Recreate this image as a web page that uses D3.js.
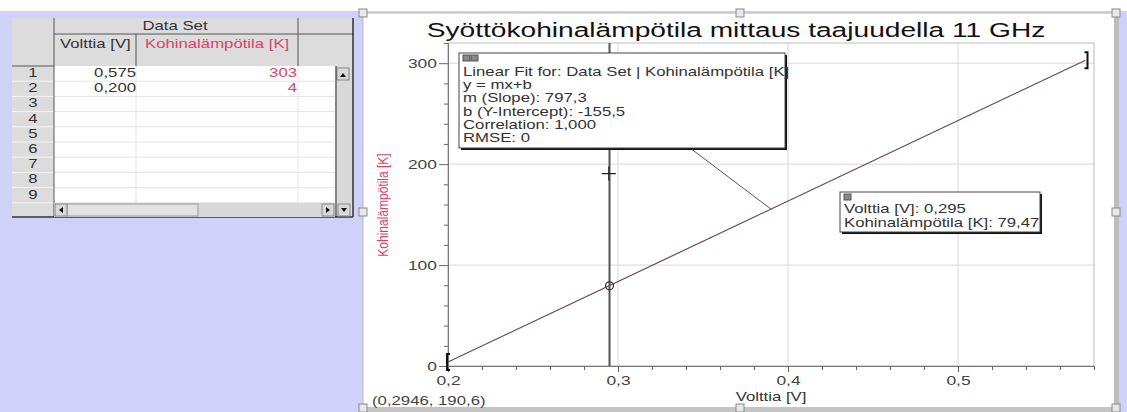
<!DOCTYPE html>
<html>
<head>
<meta charset="utf-8">
<script src="https://cdn.jsdelivr.net/npm/d3@7"></script>
<style>
  body { margin: 0; background: #fff; }
  svg { display: block; font-family: "Liberation Sans", Arial, sans-serif; }
</style>
</head>
<body>
<div id="chart"></div>
<script>
// --- données ---
const volts = [0.575, 0.200];
const temps = [303, 4];
const voltLabels = ["0,575", "0,200"];
const tempLabels = ["303", "4"];
const rowNumbers = [1, 2, 3, 4, 5, 6, 7, 8, 9];
const xTicks = [0.2, 0.3, 0.4, 0.5];
const yTicks = [0, 100, 200, 300];
const fitLines = [
  "Linear Fit for: Data Set | Kohinalämpötila [K]",
  "y = mx+b",
  "m (Slope): 797,3",
  "b (Y-Intercept): -155,5",
  "Correlation: 1,000",
  "RMSE: 0"
];
const slope = 797.3, intercept = -155.5;
const fitRange = [0.2, 0.575];
const examineX = 0.295, examineY = 79.47;
const cursorPt = [0.2946, 190.6];
const leaderX = 0.39;

const W = 1127, H = 412;
const SX = 1.34; // l'image d'origine est étirée horizontalement

const svg = d3.select("#chart").append("svg").attr("width", W).attr("height", H);

// texte étiré horizontalement autour de son point d'ancrage
function txt(parent, x, y, s, size, fill, anchor) {
  return parent.append("text")
    .attr("transform", `translate(${x},${y}) scale(${SX},1)`)
    .attr("text-anchor", anchor || "start")
    .attr("font-size", size).attr("fill", fill).text(s);
}

// fond lavande
svg.append("rect").attr("x", 0).attr("y", 11).attr("width", W).attr("height", H - 11).attr("fill", "#d0d0f8");

// ==========================
// TABLEAU
// ==========================
const tb = svg.append("g");
const tx0 = 12, ty0 = 18, tx1 = 353, ty1 = 217;
const rowTop = 66, rowH = 15.2;

tb.append("rect").attr("x", tx0).attr("y", ty0).attr("width", tx1 - tx0).attr("height", ty1 - ty0).attr("fill", "#dcdcdc");
tb.append("rect").attr("x", 54).attr("y", rowTop).attr("width", 335 - 54).attr("height", rowH * 9).attr("fill", "#fff");
rowNumbers.forEach((n, i) => {
  const y = rowTop + rowH * (i + 1);
  tb.append("line").attr("x1", 54).attr("x2", 335).attr("y1", y).attr("y2", y).attr("stroke", "#e4e4e4");
  tb.append("line").attr("x1", 12).attr("x2", 54).attr("y1", y).attr("y2", y).attr("stroke", "#f4f4f4");
  txt(tb, 33, rowTop + rowH * i + 11, n, 12.5, "#333", "middle");
});
[136, 298].forEach(x => tb.append("line").attr("x1", x).attr("x2", x).attr("y1", rowTop).attr("y2", rowTop + rowH * 9).attr("stroke", "#e4e4e4"));
tb.append("line").attr("x1", 54).attr("x2", 54).attr("y1", ty0).attr("y2", ty1).attr("stroke", "#555");
tb.append("line").attr("x1", 298).attr("x2", 298).attr("y1", ty0).attr("y2", 66).attr("stroke", "#555");
tb.append("line").attr("x1", 136).attr("x2", 136).attr("y1", 34).attr("y2", 66).attr("stroke", "#555");
tb.append("line").attr("x1", 54).attr("x2", 353).attr("y1", 34).attr("y2", 34).attr("stroke", "#555");
tb.append("line").attr("x1", 12).attr("x2", 54).attr("y1", 66).attr("y2", 66).attr("stroke", "#555");
tb.append("line").attr("x1", 353).attr("x2", 353).attr("y1", ty0).attr("y2", ty1).attr("stroke", "#333").attr("stroke-width", 1.5);
tb.append("line").attr("x1", tx0).attr("x2", tx1).attr("y1", ty1).attr("y2", ty1).attr("stroke", "#333").attr("stroke-width", 1.5);

txt(tb, 175, 30, "Data Set", 12.5, "#333", "middle");
txt(tb, 60, 48, "Volttia [V]", 12.5, "#333");
txt(tb, 145, 48, "Kohinalämpötila [K]", 12.5, "#e0406a");

volts.forEach((v, i) => {
  txt(tb, 136, rowTop + rowH * i + 11, voltLabels[i], 12.5, "#333", "end");
  txt(tb, 297, rowTop + rowH * i + 11, tempLabels[i], 12.5, "#e0406a", "end");
});

// barres de défilement
tb.append("rect").attr("x", 335).attr("y", 66).attr("width", 17).attr("height", 137).attr("fill", "#d8d8d8");
tb.append("rect").attr("x", 54).attr("y", 203).attr("width", 281).attr("height", 14).attr("fill", "#d8d8d8");
tb.append("rect").attr("x", 67).attr("y", 204).attr("width", 131).attr("height", 12).attr("fill", "#e2e2e2").attr("stroke", "#999");
function arrowBox(x, y, pts) {
  tb.append("rect").attr("x", x).attr("y", y).attr("width", 12).attr("height", 12).attr("fill", "#d8d8d8").attr("stroke", "#888");
  tb.append("path").attr("d", pts).attr("fill", "#111");
}
arrowBox(337, 68, "M340,77 L346,77 L343,73 Z");
arrowBox(55, 204, "M63,207 L63,213 L59,210 Z");
arrowBox(322, 204, "M326,207 L326,213 L330,210 Z");
arrowBox(338, 204, "M341,208 L347,208 L344,212 Z");
tb.append("line").attr("x1", 336).attr("x2", 336).attr("y1", 66).attr("y2", 217).attr("stroke", "#333");

// ==========================
// PANNEAU DU GRAPHIQUE
// ==========================
svg.append("rect").attr("x", 363).attr("y", 13).attr("width", 752).attr("height", 395).attr("fill", "#fff").attr("stroke", "#b8b8c8");
svg.append("rect").attr("x", 1114).attr("y", 13).attr("width", 5).attr("height", 399).attr("fill", "#bdbdbd");
svg.append("rect").attr("x", 363).attr("y", 407).attr("width", 756).attr("height", 5).attr("fill", "#c4c4c4");

const handles = [[363, 13], [740, 13], [1116, 13], [363, 212], [1116, 212], [363, 408], [740, 408], [1116, 408]];
svg.selectAll(".handle").data(handles).enter().append("rect")
  .attr("x", d => d[0] - 4).attr("y", d => d[1] - 4).attr("width", 8).attr("height", 8)
  .attr("fill", "#e8e8e8").attr("stroke", "#888");

txt(svg, 736, 37, "Syöttökohinalämpötila mittaus taajuudella 11 GHz", 21, "#111", "middle");

const x = d3.scaleLinear().domain([0.2, 0.58]).range([448, 1094]);
const y = d3.scaleLinear().domain([0, 320]).range([366, 43]);

const plot = svg.append("g");
plot.selectAll(".gx").data(xTicks).enter().append("line")
  .attr("x1", d => x(d)).attr("x2", d => x(d)).attr("y1", 43).attr("y2", 366).attr("stroke", "#d8d8d8");
plot.selectAll(".gy").data(yTicks).enter().append("line")
  .attr("x1", 448).attr("x2", 1094).attr("y1", d => y(d)).attr("y2", d => y(d)).attr("stroke", "#d8d8d8");
plot.append("rect").attr("x", 448).attr("y", 43).attr("width", 1094 - 448).attr("height", 366 - 43)
  .attr("fill", "none").attr("stroke", "#bbb");

// axes
const isMajorX = d => xTicks.some(t => Math.abs(t - d) < 1e-6);
const xAxis = d3.axisBottom(x).tickValues(d3.range(0.2, 0.5801, 0.02)).tickSize(4)
  .tickFormat(d => isMajorX(d) ? d3.format(".1f")(d).replace(".", ",") : "");
const gx = plot.append("g").attr("transform", "translate(0,366)").call(xAxis);
gx.selectAll(".tick line").attr("stroke", "#666").attr("y2", d => isMajorX(d) ? 6 : 4);
gx.select(".domain").attr("stroke", "#777");
gx.selectAll("text").attr("font-size", 13).attr("fill", "#444").attr("dy", "0.95em")
  .attr("transform", `scale(${SX},1)`).attr("font-family", "Liberation Sans, Arial");

const yAxis = d3.axisLeft(y).tickValues(d3.range(0, 321, 20)).tickSize(4)
  .tickFormat(d => yTicks.includes(d) ? d : "");
const gy = plot.append("g").attr("transform", "translate(448,0)").call(yAxis);
gy.selectAll(".tick line").attr("stroke", "#666").attr("x2", d => yTicks.includes(d) ? -9 : -4);
gy.select(".domain").attr("stroke", "#777");
gy.selectAll("text").attr("font-size", 13).attr("fill", "#444").attr("x", -11 / SX)
  .attr("transform", `scale(${SX},1)`).attr("font-family", "Liberation Sans, Arial");

// libellés des axes
svg.append("text").attr("transform", "translate(388,205) rotate(-90) scale(1,1.25)").attr("text-anchor", "middle")
  .attr("font-size", 12).attr("fill", "#e0406a").text("Kohinalämpötila [K]");
txt(svg, 771, 401, "Volttia [V]", 12.5, "#333", "middle");
txt(svg, 372, 405, "(" + String(cursorPt[0]).replace(".", ",") + ", " + String(cursorPt[1]).replace(".", ",") + ")", 12.5, "#444");

// ligne d'examen
plot.append("line").attr("x1", x(examineX)).attr("x2", x(examineX)).attr("y1", 43).attr("y2", 366)
  .attr("stroke", "#555").attr("stroke-width", 2);

// ligne d'ajustement
const fitData = fitRange.map(v => [v, slope * v + intercept]);
plot.append("path").datum(fitData)
  .attr("d", d3.line().x(d => x(d[0])).y(d => y(d[1])))
  .attr("stroke", "#6a4a52").attr("stroke-width", 1.2).attr("fill", "none");

// crochets de la région
function bracket(px, py, dir) {
  plot.append("path")
    .attr("d", `M${px + 3 * dir},${py - 8} L${px},${py - 8} L${px},${py + 8} L${px + 3 * dir},${py + 8}`)
    .attr("stroke", "#111").attr("stroke-width", 2).attr("fill", "none");
}
bracket(x(fitRange[0]) - 1, y(fitData[0][1]), 1);
bracket(x(fitRange[1]) + 2, y(fitData[1][1]), -1);

// point examiné
plot.append("circle").attr("cx", x(examineX)).attr("cy", y(examineY)).attr("r", 4)
  .attr("fill", "none").attr("stroke", "#333").attr("stroke-width", 1.2);
// curseur
const cx = x(cursorPt[0]), cy = y(cursorPt[1]);
plot.append("path").attr("d", `M${cx - 7},${cy} L${cx + 7},${cy} M${cx},${cy - 7} L${cx},${cy + 7}`)
  .attr("stroke", "#222").attr("stroke-width", 1.2);

// ligne de repère
plot.append("line").attr("x1", 690).attr("y1", 148).attr("x2", x(leaderX)).attr("y2", y(slope * leaderX + intercept))
  .attr("stroke", "#555");

// boîtes d'annotation
function annotBox(bx, by, bw, bh, lines, lineY0, step, icons) {
  const g = svg.append("g");
  g.append("rect").attr("x", bx + 2).attr("y", by + 2).attr("width", bw).attr("height", bh).attr("fill", "#111");
  g.append("rect").attr("x", bx).attr("y", by).attr("width", bw).attr("height", bh).attr("fill", "#fff").attr("stroke", "#444");
  for (let i = 0; i < icons; i++) {
    g.append("rect").attr("x", bx + 4 + i * 8).attr("y", by + 2).attr("width", 7).attr("height", 6)
      .attr("fill", "#888").attr("stroke", "#555");
  }
  lines.forEach((s, i) => txt(g, bx + 4, lineY0 + i * step, s, 12.5, "#333"));
}
annotBox(459, 53, 326, 95, fitLines, 76, 13.2, 2);
annotBox(840, 192, 200, 40, ["Volttia [V]: " + String(examineX).replace(".", ","),
  "Kohinalämpötila [K]: " + String(examineY).replace(".", ",")], 213, 14, 1);
</script>
</body>
</html>
